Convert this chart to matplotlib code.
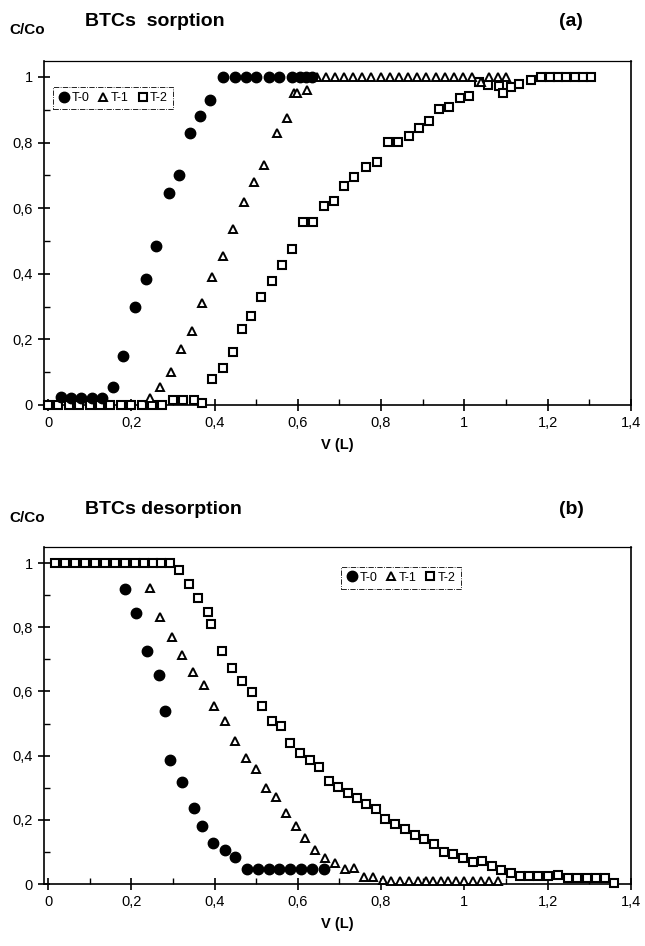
import matplotlib.pyplot as plt
from matplotlib.ticker import MultipleLocator, FuncFormatter

plt.rcParams['font.family'] = ['Liberation Sans', 'DejaVu Sans']

# sorption (a)
v_a0 = [0.03, 0.055, 0.08, 0.105, 0.13, 0.155, 0.18, 0.21, 0.235, 0.26, 0.29, 0.315, 0.34, 0.365, 0.39,
        0.42, 0.45, 0.475, 0.50, 0.53, 0.555, 0.585, 0.605, 0.62, 0.635]
c_a0 = [0.025, 0.02, 0.02, 0.02, 0.02, 0.055, 0.15, 0.30, 0.385, 0.485, 0.645, 0.70, 0.83, 0.88, 0.93,
        1, 1, 1, 1, 1, 1, 1, 1, 1, 1]

v_a1 = [0.245, 0.27, 0.295, 0.32, 0.345, 0.37, 0.395, 0.42, 0.445, 0.47, 0.495, 0.52, 0.55, 0.575, 0.59,
        0.598, 0.622, 0.645, 0.667, 0.689, 0.711, 0.733, 0.755, 0.777, 0.799, 0.821, 0.843, 0.865, 0.887,
        0.909, 0.931, 0.953, 0.975, 0.997, 1.019, 1.04, 1.06, 1.08, 1.10]
c_a1 = [0.02, 0.055, 0.10, 0.17, 0.225, 0.31, 0.39, 0.455, 0.535, 0.62, 0.68, 0.73, 0.83, 0.875, 0.95,
        0.95, 0.96, 1, 1, 1, 1, 1, 1, 1, 1, 1, 1, 1, 1,
        1, 1, 1, 1, 1, 1, 0.985, 1, 1, 1]

v_a2 = [0, 0.025, 0.05, 0.075, 0.10, 0.125, 0.15, 0.175, 0.20, 0.225, 0.25, 0.275,
        0.30, 0.325, 0.35, 0.37,
        0.395, 0.42, 0.445, 0.465, 0.488, 0.512, 0.538, 0.562, 0.586,
        0.612, 0.636, 0.662, 0.686, 0.71, 0.736, 0.764, 0.79, 0.816, 0.84, 0.866, 0.892, 0.915, 0.94, 0.964, 0.99,
        1.012, 1.036, 1.056, 1.084, 1.092, 1.112, 1.132, 1.16,
        1.185, 1.205, 1.225, 1.245, 1.265, 1.285, 1.305]
c_a2 = [0, 0, 0, 0, 0, 0, 0, 0, 0, 0, 0, 0,
        0.015, 0.015, 0.015, 0.005,
        0.078, 0.112, 0.16, 0.23, 0.272, 0.33, 0.378, 0.427, 0.475,
        0.559, 0.559, 0.605, 0.622, 0.667, 0.695, 0.725, 0.742, 0.803, 0.803, 0.82, 0.843, 0.867, 0.902, 0.907, 0.935,
        0.942, 0.986, 0.976, 0.973, 0.95, 0.97, 0.98, 0.992,
        1, 1, 1, 1, 1, 1, 1]

# desorption (b)
v_b0 = [0.186, 0.212, 0.238, 0.266, 0.282, 0.294, 0.322, 0.35, 0.37, 0.396, 0.424, 0.45,
        0.478, 0.504, 0.53, 0.556, 0.582, 0.608, 0.634, 0.664]
c_b0 = [0.92, 0.843, 0.725, 0.652, 0.538, 0.385, 0.317, 0.238, 0.18, 0.128, 0.106, 0.083,
        0.047, 0.047, 0.047, 0.047, 0.047, 0.047, 0.047, 0.047]

v_b1 = [0.244, 0.27, 0.298, 0.322, 0.348, 0.374, 0.398, 0.424, 0.45, 0.476, 0.5, 0.524, 0.548, 0.572,
        0.596, 0.618, 0.642, 0.666, 0.69, 0.714, 0.736, 0.758, 0.78,
        0.804, 0.824, 0.846, 0.866, 0.888, 0.908, 0.926, 0.944, 0.962, 0.98, 1.0, 1.02, 1.04, 1.06, 1.08]
c_b1 = [0.923, 0.832, 0.77, 0.714, 0.662, 0.621, 0.556, 0.509, 0.445, 0.393, 0.357, 0.30, 0.271, 0.22,
        0.18, 0.142, 0.106, 0.08, 0.064, 0.048, 0.05, 0.023, 0.023,
        0.012, 0.01, 0.01, 0.008, 0.008, 0.008, 0.008, 0.008, 0.008, 0.008, 0.008, 0.008, 0.008, 0.008, 0.01]

v_b2 = [0.016, 0.04, 0.064, 0.088, 0.112, 0.136, 0.16, 0.184, 0.208, 0.23, 0.252, 0.272, 0.292,
        0.314, 0.338, 0.36, 0.384, 0.392,
        0.418, 0.442, 0.466, 0.49, 0.514, 0.538,
        0.56, 0.582, 0.606, 0.63, 0.652, 0.674, 0.696, 0.72, 0.742, 0.764, 0.788,
        0.81, 0.834, 0.858, 0.882, 0.904, 0.928, 0.952, 0.974, 0.998,
        1.02, 1.042, 1.066, 1.088, 1.112, 1.134, 1.156, 1.178, 1.202, 1.224, 1.248, 1.27, 1.294, 1.316,
        1.338, 1.36]
c_b2 = [1, 1, 1, 1, 1, 1, 1, 1, 1, 1, 1, 1, 1,
        0.978, 0.934, 0.892, 0.846, 0.81,
        0.725, 0.672, 0.634, 0.597, 0.554, 0.507,
        0.492, 0.44, 0.408, 0.387, 0.364, 0.321, 0.302, 0.283, 0.268, 0.25, 0.235,
        0.204, 0.188, 0.173, 0.154, 0.139, 0.124, 0.10, 0.095, 0.08,
        0.069, 0.072, 0.056, 0.045, 0.035, 0.025, 0.025, 0.025, 0.025, 0.028, 0.018, 0.018, 0.018, 0.018,
        0.018, 0.002]

labels = ['T-0', 'T-1', 'T-2']


def comma(x, pos):
    s = ('%.1f' % x).rstrip('0').rstrip('.')
    return s.replace('.', ',')


def draw(ax, data, leg_loc):
    (v0, c0), (v1, c1), (v2, c2) = data
    ax.plot(v2, c2, 's', ms=6.3, mfc='white', mec='black', mew=1.5, clip_on=False, label=labels[2], zorder=3)
    ax.plot(v1, c1, '^', ms=5.8, mfc='white', mec='black', mew=1.4, clip_on=False, label=labels[1], zorder=4)
    ax.plot(v0, c0, 'o', ms=7.5, color='black', clip_on=False, label=labels[0], zorder=5)
    ax.set_xlim(-0.01, 1.4)
    ax.set_ylim(0, 1.05)
    ax.xaxis.set_major_locator(MultipleLocator(0.2))
    ax.xaxis.set_minor_locator(MultipleLocator(0.1))
    ax.yaxis.set_major_locator(MultipleLocator(0.2))
    ax.yaxis.set_minor_locator(MultipleLocator(0.1))
    ax.xaxis.set_major_formatter(FuncFormatter(comma))
    ax.yaxis.set_major_formatter(FuncFormatter(comma))
    ax.tick_params(which='major', direction='inout', length=9, width=1.2, labelsize=10.5)
    ax.tick_params(which='minor', direction='in', length=4, width=1)
    ax.tick_params(top=False, right=False)
    for sp in ax.spines.values():
        sp.set_linewidth(1.2)
    ax.spines['top'].set_linewidth(0.9)
    h, l = ax.get_legend_handles_labels()
    leg = ax.legend(h[::-1], l[::-1], ncol=3, loc='upper left', bbox_to_anchor=leg_loc, fontsize=9,
                    handletextpad=0.1, columnspacing=0.6, handlelength=1.0, borderpad=0.4,
                    fancybox=False, edgecolor='black', framealpha=1)
    leg.get_frame().set_linestyle('-.')
    leg.get_frame().set_linewidth(0.6)
    ax.set_xlabel('V (L)', fontsize=10.5, fontweight='bold', labelpad=6)


fig = plt.figure(figsize=(6.45, 9.46), dpi=100)
ax1 = fig.add_axes([0.068, 0.572, 0.910, 0.364])
ax2 = fig.add_axes([0.068, 0.0655, 0.910, 0.3563])

draw(ax1, [(v_a0, c_a0), (v_a1, c_a1), (v_a2, c_a2)], (0.005, 0.94))
draw(ax2, [(v_b0, c_b0), (v_b1, c_b1), (v_b2, c_b2)], (0.495, 0.96))

fig.text(27 / 645, 1 - 30 / 946, 'C/Co', fontsize=11, fontweight='bold', ha='center', va='center')
fig.text(85 / 645, 1 - 22 / 946, 'BTCs  sorption', fontsize=14, fontweight='bold', ha='left', va='center')
fig.text(571 / 645, 1 - 22 / 946, '(a)', fontsize=14, fontweight='bold', ha='center', va='center')

fig.text(27 / 645, 1 - 518 / 946, 'C/Co', fontsize=11, fontweight='bold', ha='center', va='center')
fig.text(85 / 645, 1 - 509 / 946, 'BTCs desorption', fontsize=14, fontweight='bold', ha='left', va='center')
fig.text(571 / 645, 1 - 509 / 946, '(b)', fontsize=14, fontweight='bold', ha='center', va='center')

plt.savefig('out.png', dpi=100)
